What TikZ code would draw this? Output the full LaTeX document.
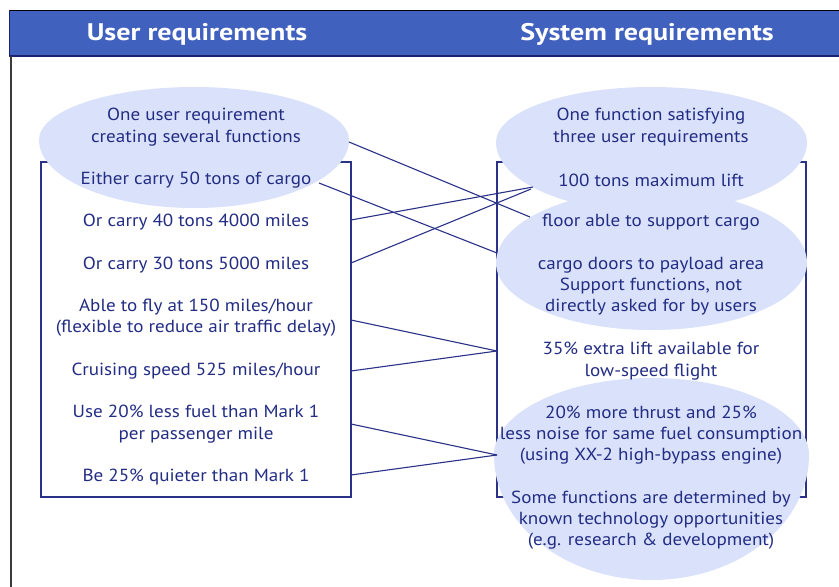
\documentclass[tikz,border=0pt]{standalone}
\usepackage{fontspec}
\setmainfont{PT Sans}[FakeStretch=1.09]
\newfontfamily\headfont{PT Sans}[FakeStretch=1.17]
\definecolor{hdr}{HTML}{4061BE}
\definecolor{hdrline}{HTML}{1A2270}
\definecolor{eggfill}{HTML}{DAE1FA}
\definecolor{ink}{HTML}{232D84}
\definecolor{wire}{HTML}{2A3288}
\definecolor{framegray}{HTML}{3A3A3A}
\newcommand\eggshape[5]{%
  \fill[eggfill] ({#1-#3},#2)
    .. controls ({#1-#3},{#2-0.5523*#4}) and ({#1-0.5523*#3},{#2-#4}) .. ({#1},{#2-#4})
    .. controls ({#1+0.5523*#3},{#2-#4}) and ({#1+#3},{#2-0.5523*#4}) .. ({#1+#3},#2)
    .. controls ({#1+#3},{#2+0.5523*#5}) and ({#1+0.5523*#3},{#2+#5}) .. ({#1},{#2+#5})
    .. controls ({#1-0.5523*#3},{#2+#5}) and ({#1-#3},{#2+0.5523*#5}) .. cycle;}
\begin{document}
\begin{tikzpicture}[x=1pt,y=-1pt,
  txt/.style={font=\fontsize{17.5}{21.3}\selectfont, text=ink, align=center, inner sep=0pt},
  head/.style={font=\headfont\bfseries\fontsize{24}{26}\selectfont, text=white, inner sep=0pt},
  boxline/.style={draw=wire, line width=1.3pt},
  wireline/.style={draw=wire, line width=1.1pt}]
\useasboundingbox (0,0) rectangle (839,587);
\fill[white] (0,0) rectangle (839,587);
% header band
\fill[hdr] (9,10) rectangle (839,56);
\draw[black, line width=1pt] (9,10) -- (839,10);
\draw[hdrline, line width=1.2pt] (9,56) -- (839,56);
\draw[hdrline, line width=1pt] (9,10) -- (9,56);
\draw[framegray, line width=1.4pt] (11,56) -- (11,587);
\node[head] (hU) at (197,34) {User requirements};
\node[head] (hS) at (647,34) {System requirements};
% boxes
\draw[boxline] (41,162) rectangle (351,497);
\draw[boxline] (497,162) rectangle (806,497);
% egg-shaped highlights
\eggshape{194}{140}{155}{53}{68}
\eggshape{651.5}{142}{155.5}{55}{70}
\eggshape{651.5}{263}{155.5}{73}{67}
\eggshape{651.5}{455}{157.5}{77}{125}
% left texts
\node[txt] (uOne) at (196,127) {One user requirement\\creating several functions};
\node[txt] (uCargo) at (196,180) {Either carry 50 tons of cargo};
\node[txt] (u40) at (196,222) {Or carry 40 tons 4000 miles};
\node[txt] (u30) at (196,265) {Or carry 30 tons 5000 miles};
\node[txt] (uFly) at (196,318) {Able to fly at 150 miles/hour\\(flexible to reduce air traffic delay)};
\node[txt] (uCruise) at (196,371) {Cruising speed 525 miles/hour};
\node[txt] (uFuel) at (196,424) {Use 20\% less fuel than Mark 1\\per passenger mile};
\node[txt] (uQuiet) at (196,477) {Be 25\% quieter than Mark 1};
% right texts
\node[txt] (sOne) at (651,127) {One function satisfying\\three user requirements};
\node[txt] (sLift) at (651,180) {100 tons maximum lift};
\node[txt] (sFloor) at (651,222) {floor able to support cargo};
\node[txt] (sDoors) at (651,286) {cargo doors to payload area\\Support functions, not\\directly asked for by users};
\node[txt] (sExtra) at (651,361) {35\% extra lift available for\\low-speed flight};
\node[txt] (sThrust) at (651,435) {20\% more thrust and 25\%\\less noise for same fuel consumption\\(using XX-2 high-bypass engine)};
\node[txt] (sSome) at (651,520) {Some functions are determined by\\known technology opportunities\\(e.g. research \& development)};
% connector ends
\coordinate (uE) at (349,142);
\coordinate (cargoEnd) at (319,183);
\coordinate (l40) at (351,220);
\coordinate (l30) at (351,263);
\coordinate (lFly) at (351,320);
\coordinate (lCruise) at (351,371);
\coordinate (lFuel) at (351,424);
\coordinate (lQuiet) at (351,475);
\coordinate (rFloor) at (530,217);
\coordinate (rLiftA) at (533,187);
\coordinate (rLiftB) at (531,189);
\coordinate (rDoors) at (497,253);
\coordinate (rExtra) at (497,351);
\coordinate (rThrust) at (497,455);
% connectors
\draw[wireline] (uE) -- (rFloor);
\draw[wireline] (cargoEnd) -- (rDoors);
\draw[wireline] (l40) -- (rLiftA);
\draw[wireline] (l30) -- (rLiftB);
\draw[wireline] (lFly) -- (rExtra);
\draw[wireline] (lCruise) -- (rExtra);
\draw[wireline] (lFuel) -- (rThrust);
\draw[wireline] (lQuiet) -- (rThrust);
\end{tikzpicture}
\end{document}
